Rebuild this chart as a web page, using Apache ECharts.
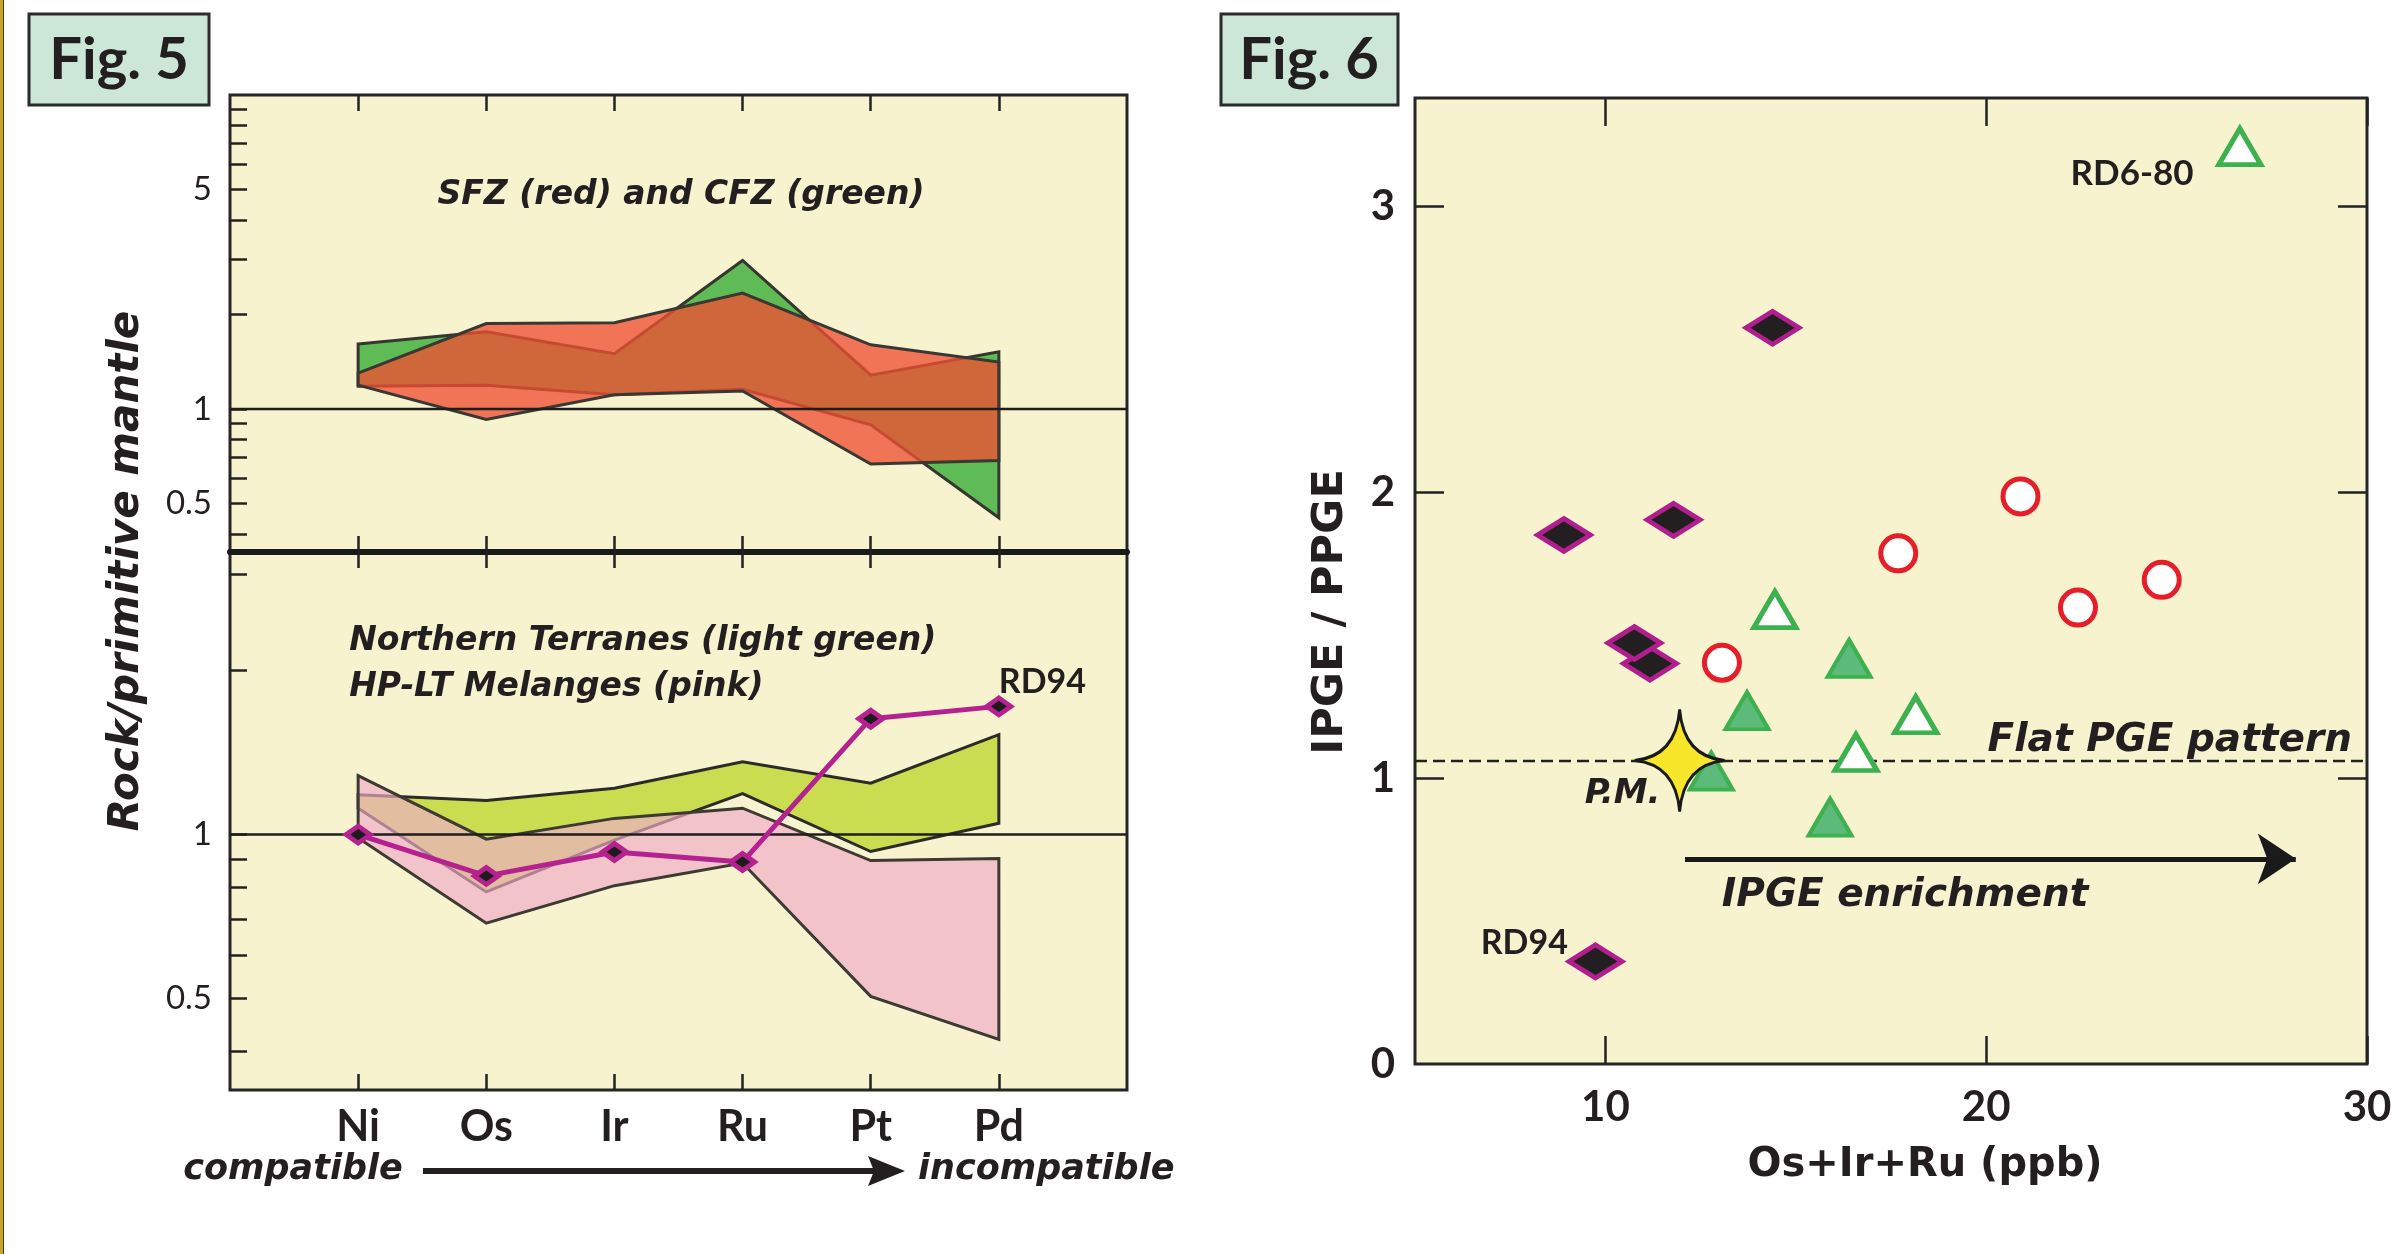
<!DOCTYPE html>
<html>
<head>
<meta charset="utf-8">
<script src="https://cdn.jsdelivr.net/npm/echarts@6/dist/echarts.min.js"></script>
<style>
html,body{margin:0;padding:0;background:#fff;}
#chart{width:2405px;height:1254px;}
</style>
</head>
<body>
<div id="chart"></div>
<script>
// ---------------- Fig. 5 data (Rock / primitive mantle) ----------------
const CATS = ['Ni', 'Os', 'Ir', 'Ru', 'Pt', 'Pd'];
// upper panel: SFZ (red) and CFZ (green) envelopes
const CFZ_UPPER = [1.61, 1.76, 1.50, 2.97, 1.28, 1.52];
const CFZ_LOWER = [1.18, 1.19, 1.11, 1.155, 0.89, 0.45];
const SFZ_UPPER = [1.30, 1.87, 1.88, 2.34, 1.60, 1.41];
const SFZ_LOWER = [1.19, 0.925, 1.11, 1.14, 0.667, 0.685];
// lower panel: Northern Terranes (light green) and HP-LT Melanges (pink)
const NT_UPPER = [1.184, 1.155, 1.216, 1.36, 1.243, 1.526];
const NT_LOWER = [1.118, 0.785, 0.977, 1.189, 0.931, 1.049];
const HPLT_UPPER = [1.283, 0.981, 1.071, 1.118, 0.896, 0.904];
const HPLT_LOWER = [0.986, 0.688, 0.806, 0.887, 0.505, 0.421];
const RD94_PATTERN = [1.0, 0.84, 0.929, 0.891, 1.632, 1.719];
const Y5_UP_LABELS = [0.5, 1, 5];
const Y5_UP_TICKS = [0.4, 0.5, 0.6, 0.7, 0.8, 0.9, 1, 2, 3, 4, 5, 6, 7, 8, 9];
const Y5_LO_LABELS = [0.5, 1];
const Y5_LO_TICKS = [0.4, 0.5, 0.6, 0.7, 0.8, 0.9, 1, 2, 3];

// ---------------- Fig. 6 data (IPGE/PPGE vs Os+Ir+Ru) ----------------
const BLACK_DIAMONDS = [[14.39, 2.576], [8.91, 1.851], [11.79, 1.904], [11.17, 1.401], [10.76, 1.473], [9.74, 0.359]];
const RED_CIRCLES = [[20.9, 1.986], [17.69, 1.787], [22.41, 1.597], [24.61, 1.694], [13.06, 1.404]];
const OPEN_TRIANGLES = [[26.66, 3.21], [14.45, 1.59], [18.15, 1.222], [16.58, 1.09]];
const FILLED_TRIANGLES = [[16.4, 1.419], [13.72, 1.236], [12.78, 1.025], [15.9, 0.864]];
const PRIMITIVE_MANTLE = [[11.95, 1.062]];
const FLAT_PGE = 1.06;
const ENRICH_ARROW = [[12.09, 0.718], [28.13, 0.718]];
const X6_TICKS = [10, 20, 30];
const Y6_LABELS = [0, 1, 2, 3];
const Y6_TICKS = [1, 2, 3];

// ---------------------------------------------------------------------
const L10 = Math.log10;
const INK = '#231f20';
const PANEL_BG = '#f8f3cf';
const LATO = 'Lato, "Open Sans", sans-serif';
const DJV = '"DejaVu Sans", sans-serif';

function bandSeries(name, xi, yi, upper, lower, fill, stroke, z) {
  const pts = [];
  upper.forEach((v, i) => pts.push([i, L10(v)]));
  for (let i = lower.length - 1; i >= 0; i--) pts.push([i, L10(lower[i])]);
  return {
    type: 'custom', name, xAxisIndex: xi, yAxisIndex: yi, z, silent: true,
    data: pts,
    renderItem: function (params, api) {
      if (params.dataIndex !== 0) return null;
      return {
        type: 'polygon',
        shape: { points: pts.map(p => api.coord(p)) },
        style: { fill: fill, stroke: stroke, lineWidth: 3, lineJoin: 'miter' }
      };
    }
  };
}

function unityLine(xi, yi) {
  return {
    type: 'line', xAxisIndex: xi, yAxisIndex: yi, z: 6, silent: true,
    symbol: 'none', data: [[-1, 0], [6, 0]],
    lineStyle: { color: '#1e1e1e', width: 2.5 }
  };
}

function textSeries(xi, yi, items) {
  return {
    type: 'scatter', xAxisIndex: xi, yAxisIndex: yi, z: 20, silent: true,
    symbol: 'circle', symbolSize: 0.5, itemStyle: { color: INK, opacity: 1 },
    data: items.map(t => ({
      value: t.pos,
      label: {
        show: true, position: 'inside', formatter: t.text,
        align: t.align || 'center', verticalAlign: 'middle',
        fontFamily: t.font, fontSize: t.size, fontWeight: 'bold',
        fontStyle: t.italic ? 'italic' : 'normal', color: INK,
        textBorderWidth: 0, opacity: 1
      }
    }))
  };
}

const tickStyle = { color: '#222', width: 2.5 };
const noLine = { show: false, onZero: false };
const noSplit = { show: false };

function catAxis(grid, pos, withLabels, thickLine) {
  return {
    gridIndex: grid, type: 'value', min: -1, max: 6, position: pos,
    axisLine: thickLine ? { show: true, onZero: false, lineStyle: { color: '#1a1a1a', width: 6 } } : noLine,
    axisTick: { show: true, inside: true, length: 16, lineStyle: tickStyle, customValues: [0, 1, 2, 3, 4, 5] },
    axisLabel: withLabels ? {
      show: true, customValues: [0, 1, 2, 3, 4, 5], margin: 16,
      formatter: v => CATS[Math.round(v)] || '',
      fontFamily: LATO, fontWeight: 'bold', fontSize: 43, color: INK
    } : { show: false },
    splitLine: noSplit
  };
}

function logAxis(grid, lo, hi, labels, ticks) {
  return {
    gridIndex: grid, type: 'value', min: L10(lo), max: L10(hi), position: 'left',
    axisLine: noLine,
    axisTick: { show: true, inside: true, length: 17, lineStyle: tickStyle, customValues: ticks.map(L10) },
    axisLabel: {
      show: true, customValues: labels.map(L10), margin: 18,
      formatter: v => String(Math.round(Math.pow(10, v) * 10) / 10),
      fontFamily: LATO, fontSize: 33, color: INK
    },
    splitLine: noSplit
  };
}

const option = {
  animation: false,
  backgroundColor: '#ffffff',
  grid: [
    { left: 230, top: 95, width: 897, height: 457, show: true, backgroundColor: PANEL_BG, borderColor: '#262626', borderWidth: 3, outerBoundsMode: 'none' },
    { left: 230, top: 552, width: 897, height: 538, show: true, backgroundColor: PANEL_BG, borderColor: '#262626', borderWidth: 3, outerBoundsMode: 'none' },
    { left: 1415, top: 98, width: 952, height: 966, show: true, backgroundColor: PANEL_BG, borderColor: '#262626', borderWidth: 3, outerBoundsMode: 'none' }
  ],
  xAxis: [
    catAxis(0, 'bottom', false, true),
    catAxis(0, 'top', false, false),
    catAxis(1, 'bottom', true, false),
    catAxis(1, 'top', false, false),
    {
      gridIndex: 2, type: 'value', min: 5, max: 30, position: 'bottom',
      axisLine: noLine,
      axisTick: { show: true, inside: true, length: 28, lineStyle: tickStyle, customValues: X6_TICKS },
      axisLabel: { show: true, customValues: X6_TICKS, margin: 22, fontFamily: LATO, fontWeight: 'bold', fontSize: 42, color: INK },
      splitLine: noSplit
    },
    {
      gridIndex: 2, type: 'value', min: 5, max: 30, position: 'top',
      axisLine: noLine,
      axisTick: { show: true, inside: true, length: 28, lineStyle: tickStyle, customValues: X6_TICKS },
      axisLabel: { show: false }, splitLine: noSplit
    }
  ],
  yAxis: [
    logAxis(0, 0.35, 10, Y5_UP_LABELS, Y5_UP_TICKS),
    logAxis(1, 0.34, 3.3, Y5_LO_LABELS, Y5_LO_TICKS),
    {
      gridIndex: 2, type: 'value', min: 0, max: 3.38, position: 'left',
      axisLine: noLine,
      axisTick: { show: true, inside: true, length: 29, lineStyle: tickStyle, customValues: Y6_TICKS },
      axisLabel: { show: true, customValues: Y6_LABELS, margin: 20, fontFamily: LATO, fontWeight: 'bold', fontSize: 42, color: INK },
      splitLine: noSplit
    },
    {
      gridIndex: 2, type: 'value', min: 0, max: 3.38, position: 'right',
      axisLine: noLine,
      axisTick: { show: true, inside: true, length: 29, lineStyle: tickStyle, customValues: Y6_TICKS },
      axisLabel: { show: false }, splitLine: noSplit
    }
  ],
  series: [
    // Fig 5 upper
    bandSeries('CFZ', 0, 0, CFZ_UPPER, CFZ_LOWER, '#5fbb55', '#363630', 2),
    bandSeries('SFZ', 0, 0, SFZ_UPPER, SFZ_LOWER, 'rgba(238,79,51,0.78)', '#3a3833', 3),
    unityLine(0, 0),
    textSeries(0, 0, [
      { pos: [2.52, 0.681], text: 'SFZ (red) and CFZ (green)', font: DJV, size: 33, italic: true }
    ]),
    // Fig 5 lower
    bandSeries('Northern Terranes', 2, 1, NT_UPPER, NT_LOWER, '#cadc50', '#2b2b28', 2),
    bandSeries('HP-LT Melanges', 2, 1, HPLT_UPPER, HPLT_LOWER, 'rgba(239,173,198,0.67)', '#3d3a33', 3),
    unityLine(2, 1),
    {
      type: 'line', name: 'RD94', xAxisIndex: 2, yAxisIndex: 1, z: 8, silent: true,
      data: RD94_PATTERN.map((v, i) => [i, L10(v)]),
      lineStyle: { color: '#b5218f', width: 5 },
      symbol: 'diamond', symbolSize: [24, 17],
      itemStyle: { color: '#1f1a1c', borderColor: '#b5218f', borderWidth: 5 }
    },
    textSeries(2, 1, [
      { pos: [-0.07, 0.355], text: 'Northern Terranes (light green)', font: DJV, size: 33, italic: true, align: 'left' },
      { pos: [-0.07, 0.270], text: 'HP-LT Melanges (pink)', font: DJV, size: 33, italic: true, align: 'left' },
      { pos: [5.34, 0.28], text: 'RD94', font: LATO, size: 34 }
    ]),
    // Fig 6
    {
      type: 'line', name: 'Flat PGE pattern', xAxisIndex: 4, yAxisIndex: 2, z: 3, silent: true,
      symbol: 'none', data: [[5, FLAT_PGE], [30, FLAT_PGE]],
      lineStyle: { color: '#222', width: 2.5, type: [12, 6] },
      markLine: {
        silent: true, symbol: ['none', 'arrow'], symbolSize: 38,
        lineStyle: { color: '#1a1a1a', width: 5, type: 'solid' },
        label: { show: false }, emphasis: { disabled: true },
        data: [[{ coord: ENRICH_ARROW[0] }, { coord: ENRICH_ARROW[1] }]]
      }
    },
    {
      type: 'scatter', name: 'red circles', xAxisIndex: 4, yAxisIndex: 2, z: 5, silent: true,
      data: RED_CIRCLES, symbol: 'circle', symbolSize: 35,
      itemStyle: { color: '#ffffff', borderColor: '#e61e2a', borderWidth: 5, opacity: 1 }
    },
    {
      type: 'scatter', name: 'filled triangles', xAxisIndex: 4, yAxisIndex: 2, z: 5, silent: true,
      data: FILLED_TRIANGLES, symbol: 'triangle', symbolSize: [43, 37],
      itemStyle: { color: '#5cba7a', borderColor: '#3db04f', borderWidth: 4, opacity: 1 }
    },
    {
      type: 'scatter', name: 'open triangles', xAxisIndex: 4, yAxisIndex: 2, z: 5, silent: true,
      data: OPEN_TRIANGLES, symbol: 'triangle', symbolSize: [42, 36],
      itemStyle: { color: '#ffffff', borderColor: '#3db04f', borderWidth: 5, opacity: 1 }
    },
    {
      type: 'scatter', name: 'black diamonds', xAxisIndex: 4, yAxisIndex: 2, z: 6, silent: true,
      data: BLACK_DIAMONDS, symbol: 'diamond', symbolSize: [53, 33],
      itemStyle: { color: INK, borderColor: '#b11e8e', borderWidth: 5, opacity: 1 }
    },
    {
      type: 'scatter', name: 'P.M.', xAxisIndex: 4, yAxisIndex: 2, z: 7, silent: true,
      data: PRIMITIVE_MANTLE,
      symbol: 'path://M0,-52 Q4,-4 46,0 Q4,4 0,52 Q-4,4 -46,0 Q-4,-4 0,-52 Z',
      symbolSize: [90, 102], symbolKeepAspect: false,
      itemStyle: { color: '#f7e62a', borderColor: '#1a1a1a', borderWidth: 3, opacity: 1 }
    },
    textSeries(4, 2, [
      { pos: [23.83, 3.115], text: 'RD6-80', font: LATO, size: 35 },
      { pos: [7.87, 0.422], text: 'RD94', font: LATO, size: 34 },
      { pos: [10.45, 0.945], text: 'P.M.', font: DJV, size: 34, italic: true },
      { pos: [24.82, 1.13], text: 'Flat PGE pattern', font: DJV, size: 39, italic: true },
      { pos: [17.87, 0.59], text: 'IPGE enrichment', font: DJV, size: 39, italic: true }
    ])
  ],
  graphic: [
    { type: 'rect', shape: { x: 0, y: 0, width: 3, height: 1254 }, style: { fill: '#c9a227' }, silent: true },
    { type: 'rect', shape: { x: 3, y: 0, width: 1, height: 1254 }, style: { fill: '#4a3c10' }, silent: true },
    // Fig labels
    { type: 'rect', shape: { x: 29, y: 14, width: 180, height: 91 }, style: { fill: '#cce7d7', stroke: '#2b2b2b', lineWidth: 3 }, silent: true },
    { type: 'text', x: 119, y: 60, style: { text: 'Fig. 5', fill: INK, font: 'bold 58px Lato, sans-serif', align: 'center', verticalAlign: 'middle' }, silent: true },
    { type: 'rect', shape: { x: 1221, y: 14, width: 177, height: 91 }, style: { fill: '#cce7d7', stroke: '#2b2b2b', lineWidth: 3 }, silent: true },
    { type: 'text', x: 1309, y: 60, style: { text: 'Fig. 6', fill: INK, font: 'bold 58px Lato, sans-serif', align: 'center', verticalAlign: 'middle' }, silent: true },
    // axis titles
    { type: 'text', x: 127, y: 571, rotation: Math.PI / 2, style: { text: 'Rock/primitive mantle', fill: INK, font: 'italic bold 42px "DejaVu Sans", sans-serif', align: 'center', verticalAlign: 'middle' }, silent: true },
    { type: 'text', x: 1331, y: 612, rotation: Math.PI / 2, style: { text: 'IPGE / PPGE', fill: INK, font: 'bold 43px "DejaVu Sans", sans-serif', align: 'center', verticalAlign: 'middle' }, silent: true },
    { type: 'text', x: 1925, y: 1166, style: { text: 'Os+Ir+Ru (ppb)', fill: INK, font: 'bold 40px "DejaVu Sans", sans-serif', align: 'center', verticalAlign: 'middle' }, silent: true },
    // compatible -> incompatible
    { type: 'text', x: 293, y: 1170, style: { text: 'compatible', fill: INK, font: 'italic bold 35px "DejaVu Sans", sans-serif', align: 'center', verticalAlign: 'middle' }, silent: true },
    { type: 'text', x: 918, y: 1170, style: { text: 'incompatible', fill: INK, font: 'italic bold 35px "DejaVu Sans", sans-serif', align: 'left', verticalAlign: 'middle' }, silent: true },
    { type: 'line', shape: { x1: 423, y1: 1171, x2: 878, y2: 1171 }, style: { stroke: INK, lineWidth: 6 }, silent: true },
    { type: 'polygon', shape: { points: [[868, 1156], [905, 1171], [868, 1186], [874, 1171]] }, style: { fill: INK }, silent: true }
  ]
};

const chart = echarts.init(document.getElementById('chart'), null, { renderer: 'canvas' });
chart.setOption(option);
</script>
</body>
</html>
